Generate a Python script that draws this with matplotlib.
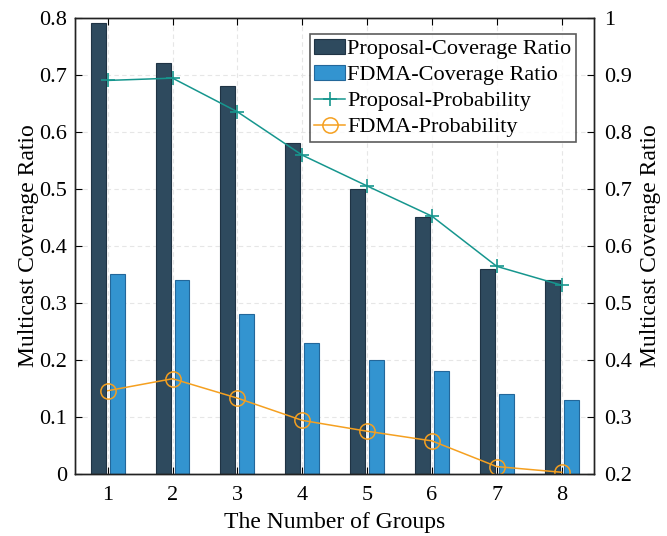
import matplotlib
matplotlib.use("Agg")
import matplotlib.pyplot as plt
import numpy as np

groups = [1, 2, 3, 4, 5, 6, 7, 8]
proposal_cov = [0.79, 0.72, 0.68, 0.58, 0.50, 0.45, 0.36, 0.34]
fdma_cov = [0.35, 0.34, 0.28, 0.23, 0.20, 0.18, 0.14, 0.13]
proposal_prob = [0.890, 0.894, 0.835, 0.759, 0.705, 0.652, 0.564, 0.531]
fdma_prob = [0.346, 0.367, 0.333, 0.294, 0.275, 0.258, 0.213, 0.203]

plt.rcParams['font.family'] = ['Liberation Serif', 'DejaVu Serif']

fig = plt.figure(figsize=(6.67, 5.36), dpi=100)
ax = fig.add_axes([0.1129, 0.1157, 0.7777, 0.8513])

x = np.array(groups, dtype=float)
w = 0.23
off = 0.146
b1 = ax.bar(x - off, proposal_cov, width=w, color='#2E4A5E', edgecolor='#1F3344',
            linewidth=0.8, label='Proposal-Coverage Ratio', zorder=2)
b2 = ax.bar(x + off, fdma_cov, width=w, color='#3394D0', edgecolor='#23679A',
            linewidth=0.8, label='FDMA-Coverage Ratio', zorder=2)

ax.set_xlim(0.5, 8.5)
ax.set_ylim(0, 0.8)
ax.set_xticks(groups)
ax.set_yticks(np.arange(0, 0.81, 0.1))
ax.set_yticklabels(['0', '0.1', '0.2', '0.3', '0.4', '0.5', '0.6', '0.7', '0.8'])
ax.grid(True, color='#E6E6E6', linestyle=(0, (4, 3)), linewidth=0.8, zorder=0)
ax.set_axisbelow(True)
ax.tick_params(direction='in', labelsize=16, length=5, width=0.8, top=True)
ax.tick_params(axis='x', pad=9)
ax.tick_params(axis='y', pad=6)
ax.set_xlabel('The Number of Groups', fontsize=17, labelpad=5)
ax.set_ylabel('Multicast Coverage Ratio', fontsize=17, labelpad=0)

ax2 = ax.twinx()
l1, = ax2.plot(x, proposal_prob, color='#16968E', marker='+', markersize=10,
               markeredgewidth=1.2, linewidth=1.1, label='Proposal-Probability')
l2, = ax2.plot(x, fdma_prob, color='#F5A020', marker='o', markersize=11,
               markerfacecolor='none', markeredgewidth=1.1, linewidth=1.1,
               label='FDMA-Probability')
ax2.set_ylim(0.2, 1.0)
ax2.set_yticks(np.arange(0.2, 1.01, 0.1))
ax2.set_yticklabels(['0.2', '0.3', '0.4', '0.5', '0.6', '0.7', '0.8', '0.9', '1'])
ax2.tick_params(direction='in', labelsize=16, length=5, width=0.8, pad=7)
ax2.set_ylabel('Multicast Coverage Ratio', fontsize=17, labelpad=6)

for a in (ax, ax2):
    for s in a.spines.values():
        s.set_linewidth(1.0)
        s.set_color('#222222')

leg = ax2.legend([b1, b2, l1, l2],
                 ['Proposal-Coverage Ratio', 'FDMA-Coverage Ratio',
                  'Proposal-Probability', 'FDMA-Probability'],
                 loc='upper right', bbox_to_anchor=(0.9653, 0.964), fontsize=16,
                 frameon=True, fancybox=False, edgecolor='#333333',
                 handlelength=1.4, handletextpad=0.1, borderpad=0.2,
                 labelspacing=0.25, borderaxespad=0)
leg.get_frame().set_linewidth(1.2)

fig.savefig('out.png', dpi=100)
